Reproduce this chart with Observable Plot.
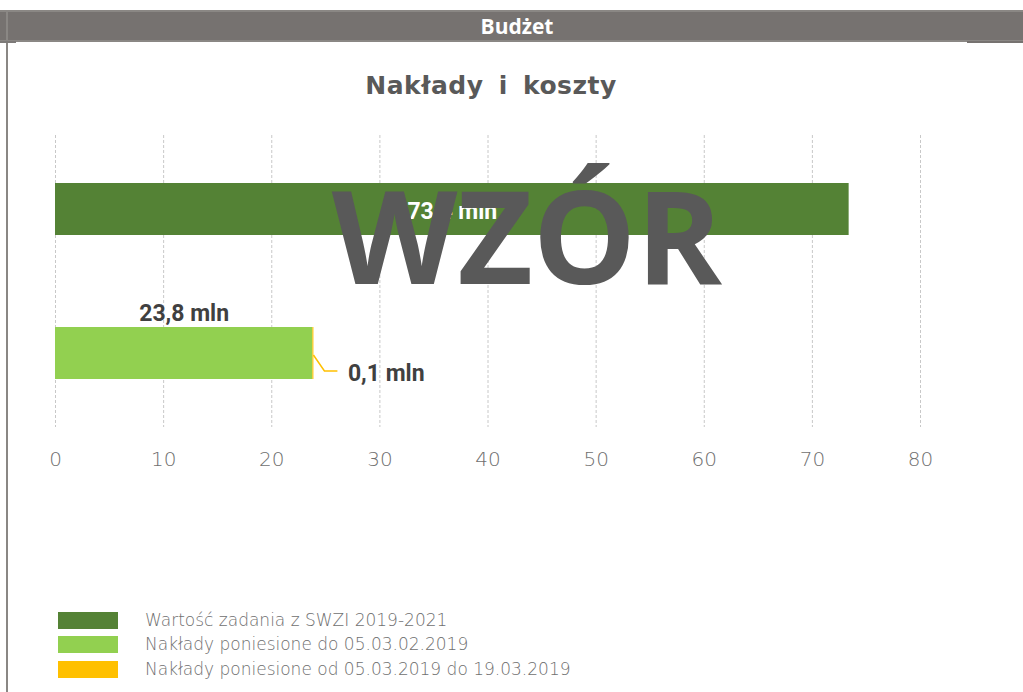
<!DOCTYPE html>
<html>
<head>
<meta charset="utf-8">
<script src="https://cdn.jsdelivr.net/npm/d3@7"></script>
<script src="https://cdn.jsdelivr.net/npm/@observablehq/plot@0.6"></script>
<style>
  html, body { margin: 0; padding: 0; background: #fff; }
  #page { position: relative; width: 1023px; height: 692px; overflow: hidden; }
  #chart { position: absolute; left: 0; top: 100px; }
  #overlay { position: absolute; left: 0; top: 0; pointer-events: none; }
</style>
</head>
<body>
<div id="page">
  <div id="chart"></div>
  <svg id="overlay" width="1023" height="692"></svg>
</div>
<script>
// ---- data ----
const headerText = "Budżet";
const titleText = "Nakłady i koszty";
const watermarkText = "WZÓR";
const rows = ["Wartość", "Nakłady"];
const seriesNames = [
  "Wartość zadania z SWZI 2019-2021",
  "Nakłady poniesione do 05.03.02.2019",
  "Nakłady poniesione od 05.03.2019 do 19.03.2019"
];
const seriesRow = ["Wartość", "Nakłady", "Nakłady"];
const seriesValues = [73.4, 23.8, 0.1];
const seriesLabels = ["73,4 mln", "23,8 mln", "0,1 mln"];
const seriesColors = ["#548235", "#92d050", "#ffc000"];
const xTicks = [0, 10, 20, 30, 40, 50, 60, 70, 80];

const data = seriesNames.map((s, i) => ({
  series: s, row: seriesRow[i], value: seriesValues[i], label: seriesLabels[i], idx: i
}));

// leader line for the small stacked segment label
function leaderMark(index, scales) {
  const xs = scales.x, ys = scales.y;
  const bw = (scales.scales && scales.scales.y && scales.scales.y.bandwidth) || (ys.bandwidth ? ys.bandwidth() : 52);
  const end = d3.sum(data.filter(d => d.row === "Nakłady"), d => d.value);
  const x0 = xs(end);
  const yc = ys("Nakłady") + bw / 2;
  const g = d3.create("svg:path")
    .attr("d", `M${x0},${yc + 2}L${x0 + 11},${yc + 18}L${x0 + 24},${yc + 18}`)
    .attr("fill", "none")
    .attr("stroke", "#ffc000")
    .attr("stroke-width", 1.5);
  return g.node();
}

const labelFont = { fontSize: 23, fontWeight: "bold", fontFamily: "Roboto" };

const plot = Plot.plot({
  width: 1023,
  height: 400,
  marginLeft: 55,
  marginRight: 103,
  marginTop: 35,
  marginBottom: 73,
  style: { fontFamily: "'DejaVu Sans', sans-serif", background: "transparent", overflow: "visible" },
  x: { domain: [0, 80], ticks: xTicks },
  y: { domain: rows, paddingInner: 0.64, paddingOuter: 0.33, axis: null },
  color: { domain: seriesNames, range: seriesColors },
  marks: [
    Plot.gridX(xTicks, { stroke: "#c8c8c8", strokeOpacity: 1, strokeDasharray: "3,2" }),
    Plot.axisX({
      ticks: xTicks, tickSize: 0, tickPadding: 24,
      fontSize: 20, fill: "#6f6f6f", stroke: null,
      fontWeight: 300, label: null
    }),
    Plot.barX(data, { x: "value", y: "row", fill: "series" }),
    Plot.text(data.filter(d => d.idx === 0), Plot.stackX({
      x: "value", y: "row", text: "label", fill: "#ffffff", ...labelFont, dy: 2
    })),
    Plot.text(data.filter(d => d.idx === 1), Plot.stackX({
      x: "value", y: "row", text: "label", fill: "#404040", ...labelFont, dy: -40
    })),
    Plot.text(data.filter(d => d.row === "Nakłady"), Plot.stackX2({
      x: "value", y: "row",
      text: d => d.idx === 2 ? d.label : "",
      fill: "#404040", textAnchor: "start", ...labelFont, dx: 34, dy: 20
    })),
    leaderMark
  ]
});
document.getElementById("chart").appendChild(plot);

// ---- overlay: header, title, watermark, legend ----
const ov = d3.select("#overlay");
ov.append("rect").attr("x", 0).attr("y", 10).attr("width", 1023).attr("height", 32).attr("fill", "#767270");
ov.append("rect").attr("x", 0).attr("y", 10).attr("width", 1023).attr("height", 2).attr("fill", "#8a8784");
ov.append("rect").attr("x", 0).attr("y", 40).attr("width", 1023).attr("height", 2).attr("fill", "#8a8784");
ov.append("rect").attr("x", 967).attr("y", 41).attr("width", 56).attr("height", 2).attr("fill", "#767270");
ov.append("rect").attr("x", 6).attr("y", 10).attr("width", 2).attr("height", 682).attr("fill", "#8a8784");
ov.append("rect").attr("x", 0).attr("y", 41).attr("width", 16).attr("height", 2).attr("fill", "#7d7a78");
ov.append("text").attr("x", 517).attr("y", 34).attr("text-anchor", "middle")
  .attr("font-family", "'Open Sans', sans-serif").attr("font-weight", "bold")
  .attr("font-size", 21).attr("fill", "#ffffff").text(headerText);

ov.append("text").attr("x", 491).attr("y", 94).attr("text-anchor", "middle")
  .attr("font-family", "'DejaVu Sans', sans-serif").attr("font-weight", "bold")
  .attr("font-size", 25).attr("fill", "#595959").attr("letter-spacing", 0.5)
  .attr("word-spacing", 6).text(titleText);

ov.append("text").attr("x", 527).attr("y", 284).attr("text-anchor", "middle")
  .attr("font-family", "'Open Sans', sans-serif").attr("font-weight", "bold")
  .attr("font-size", 130).attr("fill", "#595959").text(watermarkText);

const legendY = [612, 636, 661];
seriesNames.forEach((s, i) => {
  ov.append("rect").attr("x", 58).attr("y", legendY[i]).attr("width", 60).attr("height", 17)
    .attr("fill", seriesColors[i]);
  ov.append("text").attr("x", 145).attr("y", legendY[i] + 14)
    .attr("font-family", "'DejaVu Sans', sans-serif").attr("font-weight", 300)
    .attr("font-size", 17).attr("fill", "#6f6f6f").text(s);
});
</script>
</body>
</html>
